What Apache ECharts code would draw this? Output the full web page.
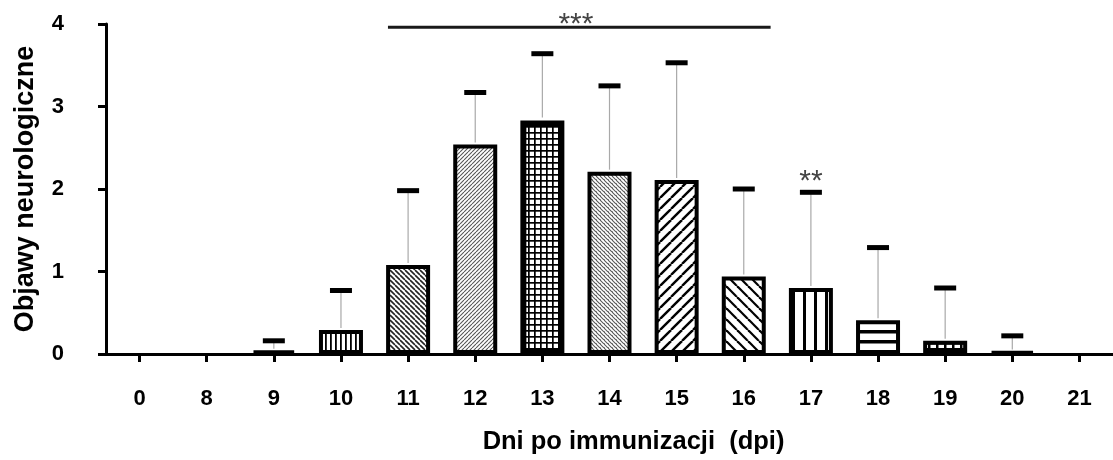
<!DOCTYPE html>
<html>
<head>
<meta charset="utf-8">
<script src="https://cdn.jsdelivr.net/npm/echarts@6/dist/echarts.min.js"></script>
<style>html,body{margin:0;padding:0;background:#fff}#c{width:1113px;height:460px}</style>
</head>
<body>
<div id="c"></div>
<script>
// ---- data ----
const categories = ['0','8','9','10','11','12','13','14','15','16','17','18','19','20','21'];
const means      = [0, 0, 0.04, 0.29, 1.08, 2.54, 2.83, 2.21, 2.11, 0.94, 0.80, 0.41, 0.16, 0.03, 0];
const upperErr   = [null, null, 0.16, 0.77, 1.98, 3.17, 3.64, 3.25, 3.53, 2.00, 1.96, 1.29, 0.80, 0.22, null];
const yTicks     = [0, 1, 2, 3, 4];
const sigLineX   = [3.7, 9.4];
const sigLineY   = 3.96;
const sigText    = ['***', '**'];
const sigTextX   = [6.5, 10];
const sigTextY   = [3.99, 2.09];

// ---- styles (patterns per category) ----
const patternNames = ['solid','solid','solid','vdense','bsdense','fsdense','grid','cross','fswide','bswide','vwide','hwide','brick','solid','solid'];
const borderWidths = [4,4,4,4,4,4,6,4,4,4,4,4,4,4,4];

function makePattern(name){
  if (name === 'solid') return '#000';
  const c = document.createElement('canvas');
  const ctx0 = () => c.getContext('2d');
  function diag(size, lw, color, dir){
    c.width = size; c.height = size;
    const ctx = ctx0();
    ctx.fillStyle = '#fff'; ctx.fillRect(0,0,size,size);
    ctx.strokeStyle = color; ctx.lineWidth = lw;
    for (let k=-1;k<=1;k++){
      ctx.beginPath();
      if (dir === 'fs'){ ctx.moveTo(k*size, size); ctx.lineTo(k*size+size, 0); }
      else { ctx.moveTo(k*size, 0); ctx.lineTo(k*size+size, size); }
      ctx.stroke();
    }
  }
  if (name === 'vdense'){
    c.width = 5; c.height = 5; const ctx = ctx0();
    ctx.fillStyle='#fff'; ctx.fillRect(0,0,5,5);
    ctx.fillStyle='#000'; ctx.fillRect(0,0,1.8,5);
  } else if (name === 'bsdense'){
    diag(5, 1.6, '#222', 'bs');
  } else if (name === 'fsdense'){
    diag(4, 1.1, '#555', 'fs');
  } else if (name === 'grid'){
    c.width = 6; c.height = 6; const ctx = ctx0();
    ctx.fillStyle='#fff'; ctx.fillRect(0,0,6,6);
    ctx.fillStyle='#000'; ctx.fillRect(0,0,1.7,6); ctx.fillRect(0,0,6,1.7);
  } else if (name === 'cross'){
    c.width = 4; c.height = 4; const ctx = ctx0();
    ctx.fillStyle='#fff'; ctx.fillRect(0,0,4,4);
    ctx.strokeStyle='#555'; ctx.lineWidth=1.1;
    for (let k=-1;k<=1;k++){
      ctx.beginPath(); ctx.moveTo(k*4,0); ctx.lineTo(k*4+4,4); ctx.stroke();
    }
    ctx.fillStyle='#888'; ctx.fillRect(0,3,1,1);
  } else if (name === 'fswide'){
    diag(11, 2.4, '#000', 'fs');
  } else if (name === 'bswide'){
    diag(11, 2.2, '#000', 'bs');
  } else if (name === 'vwide'){
    c.width = 11; c.height = 4; const ctx = ctx0();
    ctx.fillStyle='#fff'; ctx.fillRect(0,0,11,4);
    ctx.fillStyle='#000'; ctx.fillRect(0,0,3,4);
  } else if (name === 'hwide'){
    c.width = 4; c.height = 10; const ctx = ctx0();
    ctx.fillStyle='#fff'; ctx.fillRect(0,0,4,10);
    ctx.fillStyle='#000'; ctx.fillRect(0,0,4,3.5);
  } else if (name === 'brick'){
    c.width = 8; c.height = 6; const ctx = ctx0();
    ctx.fillStyle='#fff'; ctx.fillRect(0,0,8,6);
    ctx.fillStyle='#000'; ctx.fillRect(0,0,8,2.5); ctx.fillRect(0,0,2.5,6);
  }
  return { image: c, repeat: 'repeat' };
}

const FONT = "'Liberation Sans', Arial, Helvetica, sans-serif";

const barData = means.map((v, i) => ({
  value: v,
  itemStyle: { color: makePattern(patternNames[i]), borderColor: '#000', borderWidth: v > 0 ? borderWidths[i] : 0 }
}));

const errData = [];
means.forEach((m, i) => { if (upperErr[i] !== null) errData.push([i, m, upperErr[i], borderWidths[i]]); });

const sigData = sigText.map((t, i) => [sigTextX[i], sigTextY[i], t]);

const chart = echarts.init(document.getElementById('c'), null, { renderer: 'canvas' });
chart.setOption({
  animation: false,
  backgroundColor: '#fff',
  grid: { left: 106, width: 1014, top: 24, bottom: 106, containLabel: false },
  xAxis: [{
    type: 'category',
    data: categories,
    boundaryGap: true,
    axisLine: { show: true, lineStyle: { color: '#000', width: 3 } },
    axisTick: { show: true, alignWithLabel: true, length: 8, lineStyle: { color: '#000', width: 3 } },
    axisLabel: { color: '#000', fontSize: 22, fontWeight: 'bold', fontFamily: FONT, margin: 34, interval: 0 },
    name: 'Dni po immunizacji  (dpi)',
    nameLocation: 'middle',
    nameGap: 75,
    nameTextStyle: { color: '#000', fontSize: 25.5, fontWeight: 'bold', fontFamily: FONT, padding: [0, 0, 0, 48] },
    splitLine: { show: false }
  }, {
    type: 'value',
    min: -0.5, max: 14.5,
    show: false
  }],
  yAxis: {
    type: 'value',
    min: yTicks[0], max: yTicks[yTicks.length - 1], interval: 1,
    axisLine: { show: true, onZero: false, lineStyle: { color: '#000', width: 3 } },
    axisTick: { show: true, length: 8, lineStyle: { color: '#000', width: 3 } },
    axisLabel: { color: '#000', fontSize: 22, fontWeight: 'bold', fontFamily: FONT, margin: 42 },
    splitLine: { show: false },
    name: 'Objawy neurologiczne',
    nameLocation: 'middle',
    nameGap: 67,
    nameTextStyle: { color: '#000', fontSize: 27, fontWeight: 'bold', fontFamily: FONT }
  },
  series: [{
    type: 'bar',
    xAxisIndex: 0,
    data: barData,
    barWidth: 44,
    z: 2
  }, {
    type: 'custom',
    xAxisIndex: 0,
    data: errData,
    encode: { x: 0, y: [1, 2] },
    z: 3,
    renderItem: function (params, api) {
      const x = api.value(0), m = api.value(1), u = api.value(2), bw = api.value(3);
      const p0 = api.coord([x, m]);
      const p1 = api.coord([x, u]);
      return { type: 'group', children: [
        { type: 'line', shape: { x1: p0[0], y1: p0[1] - bw / 2, x2: p1[0], y2: p1[1] }, style: { stroke: '#a9a9a9', lineWidth: 1.2 } },
        { type: 'rect', shape: { x: p1[0] - 11, y: p1[1] - 2.5, width: 22, height: 5 }, style: { fill: '#000' } }
      ]};
    }
  }, {
    type: 'line',
    xAxisIndex: 1,
    data: [[sigLineX[0], sigLineY], [sigLineX[1], sigLineY]],
    symbol: 'none',
    lineStyle: { color: '#1a1a1a', width: 3 },
    clip: false,
    z: 4
  }, {
    type: 'custom',
    xAxisIndex: 1,
    data: sigData,
    encode: { x: 0, y: 1 },
    clip: false,
    z: 5,
    renderItem: function (params, api) {
      const p = api.coord([api.value(0), api.value(1)]);
      return { type: 'text', style: { text: sigData[params.dataIndex][2], x: p[0], y: p[1], align: 'center', verticalAlign: 'middle', font: "30px " + FONT, fill: '#444' } };
    }
  }]
});
</script>
</body>
</html>
